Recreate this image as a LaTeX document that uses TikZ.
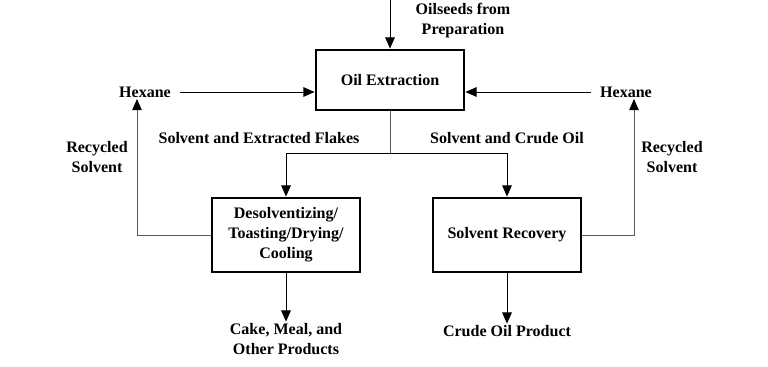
\documentclass[tikz,border=0pt]{standalone}
\usepackage{fontspec}
\setmainfont{Liberation Serif}
\usepackage{tikz}
\usetikzlibrary{arrows.meta, positioning, calc}

\begin{document}
\begin{tikzpicture}[
  x=0.025cm, y=-0.025cm,
  font=\fontsize{11.4}{14.2}\selectfont\bfseries,
  unit/.style={rectangle, draw, line width=2pt, minimum width=3.7cm, align=center, inner sep=2pt},
  lbl/.style={align=center, inner sep=1pt},
  arrow/.style={-{Triangle[length=0.28cm, width=0.24cm]}, line width=0.7pt},
  recycle/.style={-{Triangle[length=0.28cm, width=0.24cm, color=black]}, line width=0.7pt, draw=black!65}
]
\useasboundingbox (0,0) rectangle (768,367);

% Nodes
\node (extract) [unit, minimum height=1.5cm] at (390,80) {Oil Extraction};
\node (desolv) [unit, minimum height=1.85cm] at (286,235) {Desolventizing/\\Toasting/Drying/\\Cooling};
\node (recov) [unit, minimum height=1.85cm] at (507,235) {Solvent Recovery};

\node (seeds) [lbl] at (463,21) {Oilseeds from\\Preparation};
\node (hexL) [lbl, inner xsep=6pt] at (145,92) {Hexane};
\node (hexR) [lbl, inner xsep=6pt] at (626,92) {Hexane};
\node (flakes) [lbl] at (259,138) {Solvent and Extracted Flakes};
\node (crudeoil) [lbl] at (507,138) {Solvent and Crude Oil};
\node (recycL) [lbl] at (97,157) {Recycled\\Solvent};
\node (recycR) [lbl] at (672,157) {Recycled\\Solvent};
\node (cake) [lbl] at (286,339) {Cake, Meal, and\\Other Products};
\node (crude) [lbl] at (507,331) {Crude Oil Product};

\coordinate (feed) at (390,0);
\coordinate (split) at (390,153);

% Arrows
\draw [arrow] (feed) -- (extract.north);
\draw [arrow] (hexL.east) -- (hexL.east -| extract.west);
\draw [arrow] (hexR.west) -- (hexR.west -| extract.east);
\draw [recycle, -] (extract.south) -- (split);
\draw [arrow] (split) -| (desolv.north);
\draw [arrow] (split) -| (recov.north);
\draw [recycle] (desolv.west) -| ($(hexL.south)+(-8,0)$);
\draw [recycle] (recov.east) -| ($(hexR.south)+(8,0)$);
\draw [arrow] (desolv.south) -- (cake.north);
\draw [arrow] (recov.south) -- (crude.north);

\end{tikzpicture}
\end{document}
